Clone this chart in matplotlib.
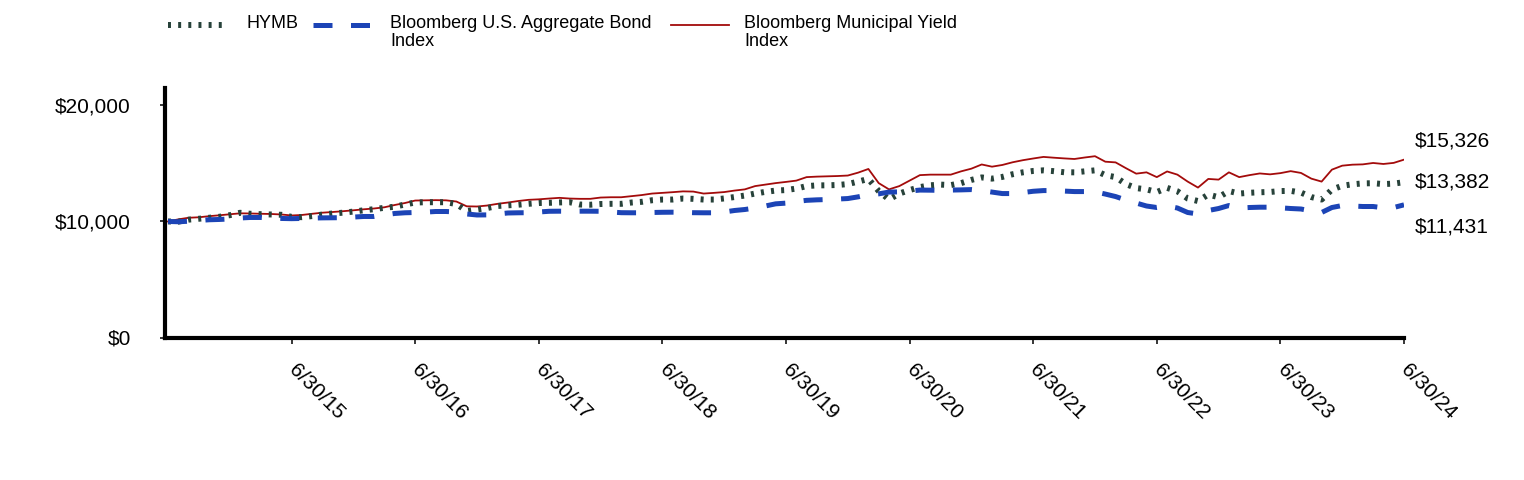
import matplotlib.pyplot as plt
from matplotlib.lines import Line2D

plt.rcParams['font.family'] = ['Liberation Sans', 'DejaVu Sans']

# growth of $10,000, month-end values 6/30/14 .. 6/30/24
hymb = [10000, 9980, 10155, 10232, 10318, 10403, 10541, 10747, 10661, 10627,
        10601, 10575, 10395, 10369, 10464, 10601, 10687, 10755, 10850, 10961,
        11056, 11176, 11270, 11459, 11631, 11657, 11657, 11657, 11502, 10901,
        11030, 11159, 11331, 11391, 11442, 11519, 11588, 11605, 11640, 11657,
        11459, 11442, 11502, 11519, 11519, 11631, 11691, 11828, 11888, 11888,
        11974, 11949, 11888, 11888, 11983, 12103, 12232, 12404, 12549, 12661,
        12704, 12833, 13047, 13107, 13116, 13142, 13219, 13434, 13665, 12618,
        11888, 12404, 12704, 12961, 13116, 13176, 13133, 13305, 13580, 13794,
        13691, 13837, 14069, 14232, 14352, 14404, 14335, 14241, 14232, 14318,
        14404, 13992, 13820, 13219, 12876, 12764, 12532, 12894, 12601, 11974,
        11760, 12318, 12086, 12618, 12404, 12472, 12515, 12541, 12618, 12635,
        12489, 12103, 11888, 12747, 13073, 13202, 13279, 13296, 13219, 13262,
        13382]

agg = [10000, 9974, 10017, 10086, 10146, 10172, 10215, 10300, 10343, 10343,
       10292, 10258, 10240, 10258, 10292, 10309, 10318, 10326, 10378, 10429,
       10429, 10558, 10687, 10747, 10772, 10807, 10858, 10858, 10815, 10644,
       10558, 10566, 10644, 10730, 10747, 10755, 10815, 10876, 10884, 10876,
       10884, 10884, 10876, 10815, 10755, 10747, 10747, 10772, 10790, 10798,
       10790, 10755, 10747, 10747, 10815, 10944, 11030, 11159, 11331, 11519,
       11579, 11717, 11820, 11863, 11888, 11931, 11974, 12120, 12318, 12378,
       12532, 12549, 12618, 12704, 12695, 12678, 12704, 12721, 12747, 12661,
       12532, 12404, 12404, 12489, 12601, 12661, 12661, 12618, 12575, 12575,
       12558, 12361, 12146, 11846, 11588, 11331, 11202, 11331, 11159, 10772,
       10644, 10944, 11116, 11373, 11159, 11202, 11228, 11228, 11176, 11116,
       11073, 10901, 10772, 11202, 11373, 11331, 11288, 11288, 11176, 11202,
       11431]

muni = [10000, 10180, 10318, 10360, 10455, 10532, 10618, 10700, 10687, 10661,
        10644, 10601, 10515, 10558, 10661, 10755, 10815, 10884, 10961, 11047,
        11116, 11219, 11416, 11588, 11803, 11820, 11837, 11820, 11717, 11305,
        11288, 11373, 11519, 11631, 11760, 11863, 11906, 11974, 12034, 11974,
        11949, 11949, 12060, 12086, 12086, 12180, 12275, 12404, 12463, 12523,
        12592, 12575, 12404, 12463, 12532, 12661, 12764, 13047, 13176, 13305,
        13408, 13519, 13820, 13863, 13889, 13914, 13957, 14206, 14524, 13305,
        12764, 13047, 13519, 13992, 14034, 14034, 14034, 14318, 14550, 14910,
        14721, 14867, 15099, 15279, 15425, 15562, 15494, 15434, 15382, 15511,
        15623, 15150, 15090, 14592, 14120, 14232, 13820, 14309, 14034, 13434,
        12919, 13665, 13605, 14232, 13820, 13992, 14137, 14060, 14163, 14335,
        14180, 13691, 13434, 14464, 14807, 14893, 14919, 15039, 14953, 15047,
        15326]

tick_labels = ["6/30/15", "6/30/16", "6/30/17", "6/30/18", "6/30/19",
               "6/30/20", "6/30/21", "6/30/22", "6/30/23", "6/30/24"]
names = ["HYMB", "Bloomberg U.S. Aggregate Bond\nIndex",
         "Bloomberg Municipal Yield\nIndex"]

c_hymb = "#27423a"
c_agg = "#1c44b6"
c_muni = "#a30b0b"

dot_style = dict(color=c_hymb, lw=4.3, linestyle=(0, (0.5, 1.2)))
dash_style = dict(color=c_agg, lw=3.6, linestyle=(0, (3.8, 3.7)))
line_style = dict(color=c_muni, lw=1.3)

W, H = 1524, 480
fig = plt.figure(figsize=(W / 100, H / 100), dpi=100)
ax = fig.add_axes([165 / W, 1 - 337.5 / H, (1404 - 165) / W, 249.5 / H])

months = list(range(len(hymb)))
ax.plot(months, muni, zorder=2, **line_style)
ax.plot(months, hymb, zorder=3, **dot_style)
ax.plot(months, agg, zorder=4, **dash_style)

ax.set_xlim(-0.29, 120)
ax.set_ylim(0, 21500)
for s in ["top", "right"]:
    ax.spines[s].set_visible(False)
for s in ["left", "bottom"]:
    ax.spines[s].set_linewidth(3)

ax.set_yticks([0, 10000, 20000])
ax.set_yticklabels(["$0", "$10,000", "$20,000"])
ax.tick_params(axis="y", length=3.6, width=1.1, pad=21, labelsize=15)

ax.set_xticks([12 * (k + 1) for k in range(len(tick_labels))])
ax.set_xticklabels(tick_labels)
ax.tick_params(axis="x", length=4.3, width=1.1, pad=17, labelsize=15)
for lbl in ax.get_xticklabels():
    lbl.set_rotation(-45)
    lbl.set_rotation_mode("anchor")
    lbl.set_ha("left")
    lbl.set_va("center")

# end values
for vals, dy in [(muni, 13.7), (hymb, 0), (agg, -15.6)]:
    ax.annotate(f"${vals[-1]:,}", xy=(120, vals[-1]), xytext=(8, dy),
                textcoords="offset points", ha="left", va="center",
                fontsize=15, annotation_clip=False)

# legend drawn by hand to keep handles on the first text line
def fx(px):
    return px / W

def fy(py):
    return 1 - py / H

spots = [(168, 222, 246), (313, 371, 390), (671, 729, 744)]
for (x0, x1, xt), st, name in zip(spots, [dot_style, dash_style, line_style], names):
    fig.add_artist(Line2D([fx(x0), fx(x1)], [fy(25), fy(25)],
                          transform=fig.transFigure, **st))
    fig.text(fx(xt), fy(15), name, ha="left", va="top", fontsize=13,
             linespacing=1.05)

fig.savefig("out.png", dpi=100)
